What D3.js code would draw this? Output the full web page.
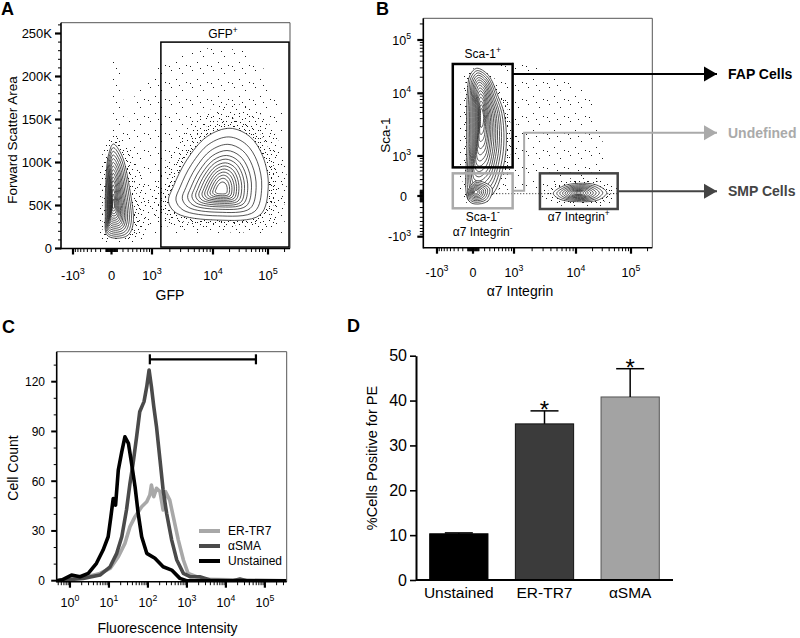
<!DOCTYPE html>
<html><head><meta charset="utf-8">
<script src="https://cdn.jsdelivr.net/npm/d3@7/dist/d3.min.js"></script>
<style>
body{margin:0;background:#fff}
text{font-family:"Liberation Sans",Arial,Helvetica,sans-serif}
</style>
</head><body>
<svg id="chart" width="800" height="638"></svg>
<script>
// ================= DATA =================
// --- shared biexponential (logicle-like) axis ticks for panels A & B
const biexTicks = [-1000, 0, 1000, 10000, 100000];
const biexTickLabels = [["-10","3"],["0",""],["10","3"],["10","4"],["10","5"]];

// --- Panel A : GFP vs Forward Scatter Area
const fscTicks = [0, 50000, 100000, 150000, 200000, 250000];
const fscTickLabels = ["0","50K","100K","150K","200K","250K"];
const gfpPosOutline = [[1900,54400],[2280,71900],[3770,102900],[7950,130000],[20400,139800],[47000,130000],[81000,106700],[101000,71900],[71600,39000],[11700,33100],[2600,40900]];
const gfpPosCenter = [14400, 68000];
const gfpPosLevels = [[1,1],[0.86,0.86],[0.74,0.74],[0.64,0.64],[0.56,0.56],[0.49,0.5],[0.43,0.44],[0.37,0.39],[0.32,0.34],[0.27,0.29],[0.22,0.24],[0.17,0.19],[0.12,0.13]];
const gfpNegOutline = [[30,121500],[176,108700],[324,71900],[411,29300],[303,15700],[88,11900],[-81,15700],[-111,40900],[-93,87400],[-54,108700]];
const gfpNegCenter = [26, 50600];
const gfpNegLevels = [[1,1],[0.9,0.94],[0.8,0.88],[0.71,0.82],[0.63,0.76],[0.56,0.7],[0.49,0.64],[0.43,0.58],[0.37,0.52],[0.31,0.46],[0.26,0.4],[0.21,0.33],[0.16,0.26],[0.11,0.18],[0.07,0.1]];
const gfpScatterCloud = [[110,15700],[110,114500],[452,178500],[1660,219000],[6180,233000],[38200,231000],[78000,213000],[180000,161000],[204000,15700]];
const gfpNegColumnCloud = [[-42,120000],[-25,219000],[178,219000],[237,120000]];
const gfpGate = [1420, 241000, 1700, 240000]; // xMin, xMax, yMin, yMax

// --- Panel B : a7 Integrin vs Sca-1
const sca1Outline = [[62,29500],[269,22000],[489,8840],[648,4860],[722,1830],[627,616],[372,46],[62,-124],[-90,-67],[-121,1440],[-109,10000],[-57,22000]];
const sca1Center = [147, 4560];
const sca1Levels = [[1,1],[0.9,0.95],[0.8,0.9],[0.72,0.85],[0.64,0.8],[0.57,0.75],[0.5,0.7],[0.43,0.64],[0.37,0.58],[0.31,0.52],[0.26,0.45],[0.21,0.38],[0.16,0.3],[0.12,0.22],[0.08,0.14]];
const dnOutline = [[-105,68],[50,271],[345,139],[263,-84],[33,-136],[-76,-84]];
const dnCenter = [42, 68];
const dnLevels = [[1,1],[0.85,0.85],[0.72,0.72],[0.6,0.6],[0.48,0.48],[0.37,0.37],[0.26,0.26],[0.15,0.15]];
const smpOutline = [[4360,46],[6290,175],[11000,225],[23800,193],[36200,56],[25400,-67],[10300,-96],[5580,-55]];
const smpCenter = [11000, 51];
const smpLevels = [[1,1],[0.86,0.86],[0.74,0.74],[0.63,0.63],[0.53,0.53],[0.44,0.44],[0.35,0.35],[0.27,0.27],[0.19,0.19],[0.11,0.11]];
const bScatterCloud = [[533,38700],[2670,34000],[18000,9400],[33700,1250],[27400,250],[2670,139],[675,103],[533,3810]];
const zeroRowSca1 = 40, zeroRowA7 = [372, 60000];
const sca1PosGate = [-435, 944, 598, 35500];
const dnGate = [-435, 944, -214, 440];
const a7PosGate = [2670, 57300, -227, 440];
const undefinedElbowSca1 = 2400;
const outputLabels = ["FAP Cells", "Undefined", "SMP Cells"];

// --- Panel C : histograms  [log10 intensity, cell count]
const histSeries = ["ER-TR7", "αSMA", "Unstained"];
const erTR7Hist = [[-0.34,0],[0.43,2.4],[0.77,4.4],[1.03,7.4],[1.24,14.5],[1.41,22.5],[1.54,32.6],[1.67,38.6],[1.84,44.6],[1.97,47.6],[2.05,51.7],[2.09,57.7],[2.15,50.7],[2.22,55.7],[2.31,53.7],[2.39,42.6],[2.45,53.7],[2.56,48.6],[2.65,38.6],[2.78,24.5],[2.91,12.5],[3.03,4.4],[3.25,2.4],[3.5,0.8],[5.56,0]];
const aSMAHist = [[-0.34,0],[0.34,1.4],[0.77,3.4],[1.03,8.4],[1.2,16.5],[1.33,26.5],[1.45,42.6],[1.54,58.7],[1.62,70.8],[1.71,86.8],[1.79,101.9],[1.9,108],[1.97,117],[2.03,127],[2.09,117],[2.15,105],[2.22,92.9],[2.31,72.8],[2.39,54.7],[2.48,40.6],[2.61,24.5],[2.74,12.5],[2.91,4.4],[3.08,2.4],[3.33,2.4],[3.59,0.4],[4.19,0],[4.36,1],[4.53,0],[5.56,0]];
const unstainedHist = [[-0.34,0],[-0.2,0.5],[0.04,3.4],[0.26,2.4],[0.47,4.4],[0.68,10.5],[0.85,18.5],[0.98,26.5],[1.05,38.6],[1.11,49.6],[1.17,45.6],[1.24,66.7],[1.33,77.8],[1.41,86.8],[1.5,82.8],[1.58,70.8],[1.67,56.7],[1.75,40.6],[1.84,26.5],[1.97,16.5],[2.18,13.5],[2.39,8.4],[2.61,6.4],[2.82,1.4],[2.99,0],[5.56,0]];
const countTicks = [0, 30, 60, 90, 120];
const decadeTicks = [0, 1, 2, 3, 4, 5];
const positiveBracket = [112, 59000, 133.5]; // from, to, count level

// --- Panel D : bar chart
const barCategories = ["Unstained", "ER-TR7", "αSMA"];
const pctPositive = [10.3, 34.8, 40.8];
const pctError = [0.2, 2.9, 6.3];
const significant = [false, true, true];
const pctTicks = [0, 10, 20, 30, 40, 50];

// ================= DRAWING =================
const svg = d3.select("#chart");
svg.append("rect").attr("width", 800).attr("height", 638).attr("fill", "#fff");
const defs = svg.append("defs");

// stipple textures used to suggest the outlier events of the flow plots
function stipple(id, w, h, pts) {
  const p = defs.append("pattern").attr("id", id).attr("patternUnits", "userSpaceOnUse")
    .attr("width", w).attr("height", h);
  pts.forEach(([x, y]) => p.append("rect").attr("x", x).attr("y", y).attr("width", 1).attr("height", 1).attr("fill", "#1a1a1a"));
}
stipple("sparse", 21, 17, [[3,2],[14,5],[8,11],[18,14],[1,15],[11,0]]);
stipple("medium", 13, 12, [[2,1],[9,4],[5,8],[11,10],[0,6]]);
stipple("dense", 9, 8, [[1,1],[6,2],[3,5],[8,6]]);

const COF = 435;
const asinhT = v => Math.asinh(v / COF);
function biexScale(range) {
  const lin = d3.scaleLinear().domain(biexTicks.map(asinhT)).range(range);
  const s = v => lin(asinhT(v));
  s.invert = p => COF * Math.sinh(lin.invert(p));
  return s;
}
function biexMinor(scale, lo, hi) {
  const vals = [];
  for (let k = 1; k <= 5; k++) for (let m = 1; m <= 9; m++) {
    const v = m * Math.pow(10, k);
    if (biexTicks.includes(v)) continue;
    vals.push(v); if (!biexTicks.includes(-v)) vals.push(-v);
  }
  return vals.filter(v => { const p = scale(v); return p >= Math.min(lo, hi) + 0.5 && p <= Math.max(lo, hi) - 0.5; });
}

function supLabel(g, x, y, base, sup, size, anchor, fill) {
  const t = g.append("text").attr("x", x).attr("y", y).attr("text-anchor", anchor)
    .attr("font-size", size).attr("fill", fill || "#000");
  t.append("tspan").text(base);
  if (sup) t.append("tspan").attr("dy", -size * 0.45).attr("font-size", size * 0.7).text(sup);
  return t;
}
function vline(g, x, y1, y2, w, c) { g.append("line").attr("x1", x).attr("x2", x).attr("y1", y1).attr("y2", y2).attr("stroke", c || "#000").attr("stroke-width", w); }
function hline(g, y, x1, x2, w, c) { g.append("line").attr("y1", y).attr("y2", y).attr("x1", x1).attr("x2", x2).attr("stroke", c || "#000").attr("stroke-width", w); }

function drawFrame(g, f) {
  hline(g, f.y0, f.x0, f.x1, 1, "#555");
  vline(g, f.x1, f.y0, f.y1, 1, "#555");
  vline(g, f.x0, f.y0, f.y1 + 0.75, 1.6);
  hline(g, f.y1, f.x0, f.x1, 1.6);
}
function biexXAxis(g, xs, f, baseline, size) {
  biexMinor(xs, f.x0, f.x1).forEach(v => vline(g, xs(v), f.y1, f.y1 + 3.5, 1));
  biexTicks.forEach((v, i) => {
    vline(g, xs(v), f.y1, f.y1 + 6, 2.2);
    supLabel(g, xs(v), baseline, biexTickLabels[i][0], biexTickLabels[i][1], size, "middle");
  });
}
function biexYAxis(g, ys, f, rightX, size) {
  biexMinor(ys, f.y0, f.y1).forEach(v => hline(g, ys(v), f.x0 - 3.5, f.x0, 1));
  biexTicks.forEach((v, i) => {
    hline(g, ys(v), f.x0 - 6, f.x0, 2.2);
    supLabel(g, biexTickLabels[i][1] ? rightX : rightX - 4, ys(v) + size * 0.36, biexTickLabels[i][0], biexTickLabels[i][1], size, "end");
  });
}

const closedLine = d3.line().curve(d3.curveCatmullRomClosed.alpha(0.5));
function levelPath(xs, ys, outline, center, fx, fy) {
  const cx = xs(center[0]), cy = ys(center[1]);
  return closedLine(outline.map(([x, y]) => [cx + fx * (xs(x) - cx), cy + fy * (ys(y) - cy)]));
}
function polyPath(xs, ys, pts) { return d3.line()(pts.map(([x, y]) => [xs(x), ys(y)])) + "Z"; }
// halos: [[fx,fy] for medium-density ring, [fx,fy] for dense ring]
function population(gHalo, gBody, xs, ys, outline, center, levels, halos) {
  gHalo.append("path").attr("d", levelPath(xs, ys, outline, center, halos[0][0], halos[0][1])).attr("fill", "url(#medium)");
  gHalo.append("path").attr("d", levelPath(xs, ys, outline, center, halos[1][0], halos[1][1])).attr("fill", "url(#dense)");
  gBody.append("path").attr("d", levelPath(xs, ys, outline, center, 1, 1)).attr("fill", "#fff");
  levels.forEach(([fx, fy]) => gBody.append("path").attr("d", levelPath(xs, ys, outline, center, fx, fy))
    .attr("fill", "none").attr("stroke", "#1c1c1c").attr("stroke-width", 0.75));
}
function clipGroup(id, f) {
  defs.append("clipPath").attr("id", id).append("rect")
    .attr("x", f.x0).attr("y", f.y0).attr("width", f.x1 - f.x0).attr("height", f.y1 - f.y0);
  return svg.append("g").attr("clip-path", `url(#${id})`);
}
function gateRect(g, xs, ys, gate, color, w) {
  const x0 = xs(gate[0]), x1 = xs(gate[1]), y0 = ys(gate[3]), y1 = ys(gate[2]);
  g.append("rect").attr("x", x0).attr("y", y0).attr("width", x1 - x0).attr("height", y1 - y0)
    .attr("fill", "none").attr("stroke", color).attr("stroke-width", w);
  return {x0, x1, y0, y1};
}
function panelLetter(x, y, t) {
  svg.append("text").attr("x", x).attr("y", y).attr("font-size", 18).attr("font-weight", "bold").text(t);
}

// ---------- Panel A ----------
{
  const f = {x0: 61, x1: 290, y0: 22.7, y1: 248.5};
  const xs = biexScale([73, 111.5, 152, 213, 268]);
  const ys = d3.scaleLinear().domain([0, 250000]).range([248.5, 33.5]);
  const g = clipGroup("clipA", f);
  g.append("path").attr("d", polyPath(xs, ys, gfpScatterCloud)).attr("fill", "url(#sparse)");
  g.append("path").attr("d", polyPath(xs, ys, gfpNegColumnCloud)).attr("fill", "url(#sparse)");
  const gh = g.append("g"), gb = g.append("g");
  population(gh, gb, xs, ys, gfpPosOutline, gfpPosCenter, gfpPosLevels, [[1.4, 1.4], [1.16, 1.16]]);
  population(gh, gb, xs, ys, gfpNegOutline, gfpNegCenter, gfpNegLevels, [[1.9, 1.15], [1.35, 1.08]]);
  const ga = svg.append("g");
  drawFrame(ga, f);
  biexXAxis(ga, xs, f, 280, 13);
  d3.range(10000, 260001, 10000).filter(v => !fscTicks.includes(v) && ys(v) > f.y0)
    .forEach(v => hline(ga, ys(v), f.x0 - 3, f.x0, 1));
  fscTicks.forEach((v, i) => {
    hline(ga, ys(v), f.x0 - 6, f.x0, 2.2);
    ga.append("text").attr("x", 52).attr("y", ys(v) + 4.6).attr("text-anchor", "end").attr("font-size", 13).text(fscTickLabels[i]);
  });
  const r = gateRect(ga, xs, ys, gfpGate, "#000", 1.5);
  supLabel(ga, (r.x0 + r.x1) / 2 - 2, r.y0 - 4, "GFP", "+", 12, "middle");
  ga.append("text").attr("transform", "translate(17,140) rotate(-90)").attr("text-anchor", "middle").attr("font-size", 13.5).text("Forward Scatter Area");
  ga.append("text").attr("x", 170).attr("y", 300).attr("text-anchor", "middle").attr("font-size", 14).text("GFP");
  panelLetter(1, 15, "A");
}

// ---------- Panel B ----------
{
  const f = {x0: 423.3, x1: 652.3, y0: 18.3, y1: 247.7};
  const xs = biexScale([437, 473, 514, 576, 631]);
  const ys = biexScale([236.7, 196, 156, 93.3, 40]);
  const g = clipGroup("clipB", f);
  g.append("path").attr("d", polyPath(xs, ys, bScatterCloud)).attr("fill", "url(#sparse)");
  g.append("line").attr("x1", xs(zeroRowA7[0])).attr("x2", xs(zeroRowA7[1]))
    .attr("y1", ys(zeroRowSca1)).attr("y2", ys(zeroRowSca1))
    .attr("stroke", "#222").attr("stroke-width", 1).attr("stroke-dasharray", "1 2");
  const gh = g.append("g"), gb = g.append("g");
  population(gh, gb, xs, ys, sca1Outline, sca1Center, sca1Levels, [[1.45, 1.0], [1.2, 1.0]]);
  population(gh, gb, xs, ys, smpOutline, smpCenter, smpLevels, [[1.5, 1.6], [1.25, 1.3]]);
  population(gh, gb, xs, ys, dnOutline, dnCenter, dnLevels, [[1.15, 1.0], [1.05, 1.0]]);
  const ga = svg.append("g");
  drawFrame(ga, f);
  biexXAxis(ga, xs, f, 277, 12.5);
  biexYAxis(ga, ys, f, 411, 12.5);
  const rPos = gateRect(ga, xs, ys, sca1PosGate, "#000", 2.5);
  const rDn = gateRect(ga, xs, ys, dnGate, "#aaaaaa", 2.5);
  const rA7 = gateRect(ga, xs, ys, a7PosGate, "#444444", 2.5);
  const cxPos = (rPos.x0 + rPos.x1) / 2;
  supLabel(ga, cxPos, rPos.y0 - 6, "Sca-1", "+", 12, "middle");
  supLabel(ga, cxPos, rDn.y1 + 12.5, "Sca-1", "-", 12, "middle");
  supLabel(ga, cxPos, rDn.y1 + 28, "α7 Integrin", "-", 12, "middle");
  supLabel(ga, (rA7.x0 + rA7.x1) / 2, rA7.y1 + 12, "α7 Integrin", "+", 12, "middle");
  const tipX = 717;
  function arrow(pts, color, label) {
    ga.append("path").attr("d", d3.line()(pts)).attr("fill", "none").attr("stroke", color).attr("stroke-width", 2);
    const [tx, ty] = pts[pts.length - 1];
    ga.append("path").attr("d", `M${tx},${ty}L${tx - 13},${ty - 7.5}L${tx - 13},${ty + 7.5}Z`).attr("fill", color);
    ga.append("text").attr("x", tx + 11).attr("y", ty + 5).attr("font-size", 14).attr("font-weight", "bold").attr("fill", color).text(label);
  }
  const fapY = rPos.y0 + 10;
  arrow([[rPos.x1, fapY], [tipX, fapY]], "#000", outputLabels[0]);
  const dnY = (rDn.y0 + rDn.y1) / 2;
  const elbowX = rDn.x1 + 11.5;
  arrow([[rDn.x1, dnY], [elbowX, dnY], [elbowX, ys(undefinedElbowSca1)], [tipX, ys(undefinedElbowSca1)]], "#aaaaaa", outputLabels[1]);
  const smpY = (rA7.y0 + rA7.y1) / 2;
  arrow([[rA7.x1, smpY], [tipX, smpY]], "#444444", outputLabels[2]);
  ga.append("text").attr("transform", "translate(390,135) rotate(-90)").attr("text-anchor", "middle").attr("font-size", 13.5).text("Sca-1");
  ga.append("text").attr("x", 520).attr("y", 296).attr("text-anchor", "middle").attr("font-size", 14).text("α7 Integrin");
  panelLetter(376, 15, "B");
}

// ---------- Panel C ----------
{
  const f = {x0: 56.7, x1: 286.7, y0: 351.7, y1: 581.7};
  const xs = d3.scaleLog().domain([Math.pow(10, -0.34), Math.pow(10, 5.56)]).range([f.x0, f.x1]);
  const ys = d3.scaleLinear().domain([0, 120]).range([580.7, 381.7]);
  const g = clipGroup("clipC", f);
  const line = d3.line().x(d => xs(Math.pow(10, d[0]))).y(d => ys(d[1]));
  const histColors = ["#a8a8a8", "#4a4a4a", "#000000"];
  [erTR7Hist, aSMAHist, unstainedHist].forEach((s, i) =>
    g.append("path").attr("d", line(s)).attr("fill", "none").attr("stroke", histColors[i])
      .attr("stroke-width", 3.6).attr("stroke-linejoin", "round"));
  const ga = svg.append("g");
  drawFrame(ga, f);
  d3.range(10, 131, 10).filter(v => !countTicks.includes(v) && ys(v) > f.y0).forEach(v => hline(ga, ys(v), f.x0 - 3, f.x0, 1));
  countTicks.forEach(v => {
    hline(ga, ys(v), f.x0 - 5.5, f.x0, 2);
    ga.append("text").attr("x", 45).attr("y", ys(v) + 4.3).attr("text-anchor", "end").attr("font-size", 12).text(v);
  });
  for (let k = -1; k <= 5; k++) for (let m = 2; m <= 9; m++) {
    const v = m * Math.pow(10, k), p = xs(v);
    if (p > f.x0 + 0.5 && p < f.x1 - 0.5) vline(ga, p, f.y1, f.y1 + 3.5, 1);
  }
  decadeTicks.forEach(k => {
    const p = xs(Math.pow(10, k));
    vline(ga, p, f.y1, f.y1 + 6, 2.2);
    supLabel(ga, p, 607, "10", String(k), 12.5, "middle");
  });
  const bx0 = xs(positiveBracket[0]), bx1 = xs(positiveBracket[1]), by = ys(positiveBracket[2]);
  hline(ga, by, bx0, bx1, 2.2);
  vline(ga, bx0, by - 5, by + 5, 2.2);
  vline(ga, bx1, by - 5, by + 5, 2.2);
  histSeries.forEach((s, i) => {
    const ly = 531 + i * 15;
    hline(ga, ly, 199, 220, 4, histColors[i]);
    ga.append("text").attr("x", 228).attr("y", ly + 4.3).attr("font-size", 12).text(s);
  });
  ga.append("text").attr("transform", "translate(18,468) rotate(-90)").attr("text-anchor", "middle").attr("font-size", 14).text("Cell Count");
  ga.append("text").attr("x", 167.5).attr("y", 633).attr("text-anchor", "middle").attr("font-size", 14).text("Fluorescence Intensity");
  panelLetter(2, 333, "C");
}

// ---------- Panel D ----------
{
  const xs = d3.scaleBand().domain(barCategories).range([416, 673]).paddingInner(0.32).paddingOuter(0.16);
  const ys = d3.scaleLinear().domain([0, 50]).range([580, 355.7]);
  const g = svg.append("g");
  const barColors = ["#000000", "#3b3b3b", "#a3a3a3"];
  const barStroke = ["#000000", "#111111", "#555555"];
  barCategories.forEach((c, i) => {
    g.append("rect").attr("x", xs(c)).attr("y", ys(pctPositive[i])).attr("width", xs.bandwidth())
      .attr("height", ys(0) - ys(pctPositive[i])).attr("fill", barColors[i]).attr("stroke", barStroke[i]).attr("stroke-width", 1);
    const cx = xs(c) + xs.bandwidth() / 2, top = ys(pctPositive[i] + pctError[i]);
    vline(g, cx, ys(pctPositive[i]), top, 1.5);
    hline(g, top, cx - 14, cx + 14, 1.5);
    if (significant[i]) g.append("text").attr("x", cx).attr("y", top + 7).attr("text-anchor", "middle").attr("font-size", 24).text("*");
    g.append("text").attr("x", cx).attr("y", 598).attr("text-anchor", "middle").attr("font-size", 15.5).text(c);
  });
  const ax = g.append("g").attr("transform", "translate(416,0)")
    .call(d3.axisLeft(ys).tickValues(pctTicks).tickSize(6).tickSizeOuter(0).tickPadding(3));
  ax.select(".domain").attr("stroke-width", 2);
  ax.selectAll(".tick line").attr("stroke-width", 1.6);
  ax.selectAll(".tick text").attr("font-size", 16).attr("font-family", '"Liberation Sans",Arial,sans-serif').attr("fill", "#000");
  hline(g, 580, 416, 673, 2);
  g.append("text").attr("transform", "translate(377,458) rotate(-90)").attr("text-anchor", "middle").attr("font-size", 14.5).text("%Cells Positive for PE");
  panelLetter(347, 332, "D");
}
</script>
</body></html>
